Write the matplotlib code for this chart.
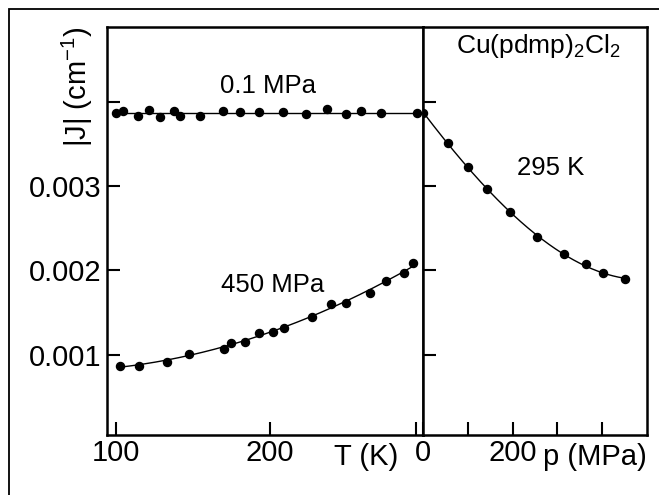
import numpy as np
import matplotlib
matplotlib.use("Agg")
import matplotlib.pyplot as plt
from matplotlib.patches import Rectangle
import matplotlib.transforms as mtransforms

plt.rcParams['font.family'] = ['Liberation Sans', 'DejaVu Sans']
plt.rcParams['mathtext.fontset'] = 'custom'
plt.rcParams['mathtext.rm'] = 'Liberation Sans'
plt.rcParams['mathtext.it'] = 'Liberation Sans'

# |J| vs T at 0.1 MPa (cm^-1)
T_low = [100.0, 104.8, 114.1, 121.6, 128.6, 137.7, 142.0, 154.5, 169.7, 181.0,
         193.1, 208.6, 223.4, 237.2, 249.4, 259.5, 272.5, 296.0]
J_low = [0.003861, 0.003892, 0.003833, 0.003900, 0.003821, 0.003888, 0.003829,
         0.003829, 0.003888, 0.003873, 0.003873, 0.003880, 0.003853, 0.003912,
         0.003849, 0.003888, 0.003861, 0.003861]

# |J| vs T at 450 MPa
T_high = [102.6, 115.1, 133.5, 147.6, 170.1, 175.1, 183.8, 192.9, 202.1, 209.1,
          227.5, 240.1, 249.8, 265.6, 275.8, 287.7, 293.0]
J_high = [0.000869, 0.000869, 0.000920, 0.001007, 0.001070, 0.001137, 0.001157,
          0.001264, 0.001276, 0.001323, 0.001446, 0.001603, 0.001611, 0.001738,
          0.001876, 0.001966, 0.002085]

# |J| vs p at 295 K
p_295 = [0.1, 56, 101, 142, 194, 254, 314, 365, 402, 452]
J_295 = [0.003861, 0.003506, 0.003222, 0.002965, 0.002689, 0.002400, 0.002191,
         0.002073, 0.001966, 0.001899]

W, H = 659, 495
fig = plt.figure(figsize=(W / 100, H / 100), dpi=100)

x0, xm, x1 = 107.3, 423.3, 646.7
yb, yt = 435.0, 27.3
ax1 = fig.add_axes([x0 / W, 1 - yb / H, (xm - x0) / W, (yb - yt) / H])
ax2 = fig.add_axes([xm / W, 1 - yb / H, (x1 - xm) / W, (yb - yt) / H], sharey=ax1)

ylim = (0.00005, 0.00488)
mk = dict(marker='o', ms=5.8, color='black', ls='none')

# left panel: temperature dependence
ax1.plot(T_low, J_low, **mk)
ax1.plot([100, 300], [np.mean(J_low)] * 2, color='black', lw=1.0)
ax1.plot(T_high, J_high, **mk)
c = np.polyfit(T_high, J_high, 2)
tt = np.linspace(T_high[0], T_high[-1], 200)
ax1.plot(tt, np.polyval(c, tt), color='black', lw=1.0)
ax1.set_xlim(94.4, 300)
ax1.set_ylim(*ylim)

# right panel: pressure dependence
ax2.plot(p_295, J_295, **mk)
c2 = np.polyfit(p_295, J_295, 3)
pp = np.linspace(p_295[0], p_295[-1], 200)
ax2.plot(pp, np.polyval(c2, pp), color='black', lw=1.0)
ax2.set_xlim(0, 500)

fs = 21
for ax in (ax1, ax2):
    for s in ax.spines.values():
        s.set_linewidth(1.8)
    ax.tick_params(direction='in', length=9.5, width=1.5, labelsize=fs, pad=4)
    ax.tick_params(axis='x', pad=3)

ax1.set_yticks([0.001, 0.002, 0.003, 0.004])
ax1.set_yticklabels(['0.001', '0.002', '0.003', ''])
ax1.set_xticks([100, 200, 295])
ax1.set_xticklabels(['100', '200', ''])

ax2.set_xticks([0, 100, 200, 300, 400])
ax2.set_xticklabels(['0', '', '200', '', ''])
ax2.tick_params(axis='y', labelleft=False)

# axis titles sitting in the tick-label row
lab_y = (yb - 457) / (yb - yt)
tr1 = mtransforms.blended_transform_factory(ax1.transData, ax1.transAxes)
tr2 = mtransforms.blended_transform_factory(ax2.transData, ax2.transAxes)
ax1.text(263, lab_y, 'T (K)', transform=tr1, ha='center', va='center', fontsize=fs)
ax2.text(385, lab_y, 'p (MPa)', transform=tr2, ha='center', va='center', fontsize=fs)

fig.text(77 / W, 1 - 87 / H, r'|J| (cm$^{-1}$)', rotation=90, ha='center',
         va='center', fontsize=fs)

ax1.text(198.7, 0.004184, '0.1 MPa', ha='center', va='center', fontsize=18.5)
ax1.text(202, 0.001828, '450 MPa', ha='center', va='center', fontsize=18.5)
ax2.text(284, 0.003213, '295 K', ha='center', va='center', fontsize=18.5)
ax2.text(257, 0.004657, r'Cu(pdmp)$_2$Cl$_2$', ha='center', va='center', fontsize=19)

# outer frame of the original figure (cropped at right and bottom)
fig.add_artist(Rectangle((9 / W, -0.2), 1.2, 1.2 - 9 / H, transform=fig.transFigure,
                         fill=False, lw=1.3, edgecolor='black'))

fig.savefig('out.png', dpi=100)
